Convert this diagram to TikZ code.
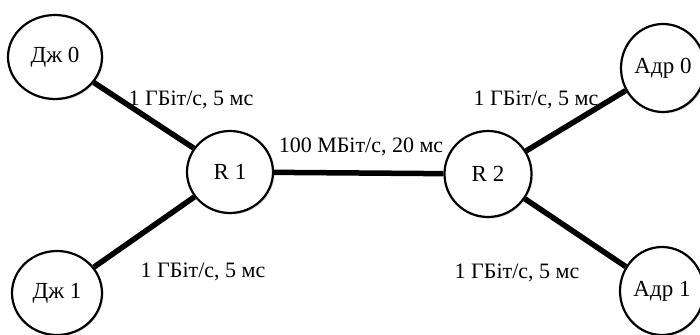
\documentclass[tikz,border=0pt]{standalone}
\usepackage{fontspec}
\setmainfont{Liberation Serif}
\usetikzlibrary{shapes.geometric,shadows}
\begin{document}
\begin{tikzpicture}[x=1pt,y=-1pt,
  host/.style={ellipse, draw=black, line width=2.2pt, fill=white, inner sep=0pt,
    minimum width=#1, minimum height=84pt, font=\fontsize{23}{26}\selectfont,
    drop shadow={opacity=0.25, shadow xshift=1.5pt, shadow yshift=-1.5pt}},
  host/.default=90pt,
  link/.style={line width=5.5pt, black},
  lbl/.style={font=\fontsize{22}{26}\selectfont, inner sep=0pt}]
  \useasboundingbox (0,0) rectangle (700,334);
  \fill[white] (0,0) rectangle (700,334);

  % hosts and routers
  \node[host=94pt] (dj0) at (55,57) {Дж 0};
  \node[host=90pt] (dj1) at (57,293) {Дж 1};
  \node[host=86pt, minimum height=82pt] (r1) at (230,172) {R 1};
  \node[host=87pt, minimum height=86pt] (r2) at (488,174) {R 2};
  \node[host=84pt, minimum height=88pt] (adr0) at (663,68) {Адр 0};
  \node[host=84pt, minimum height=88pt] (adr1) at (662,291) {Адр 1};

  % links
  \draw[link] (dj0) -- (r1);
  \draw[link] (dj1) -- (r1);
  \draw[link] (r1) -- (r2);
  \draw[link] (r2) -- (adr0);
  \draw[link] (r2) -- (adr1);

  % link labels
  \node[lbl] (l1) at (191,100) {1 ГБіт/с, 5 мс};
  \node[lbl] (l2) at (203,272) {1 ГБіт/с, 5 мс};
  \node[lbl] (l3) at (361,147) {100 МБіт/с, 20 мс};
  \node[lbl] (l4) at (536,100) {1 ГБіт/с, 5 мс};
  \node[lbl] (l5) at (517,273) {1 ГБіт/с, 5 мс};
\end{tikzpicture}
\end{document}
